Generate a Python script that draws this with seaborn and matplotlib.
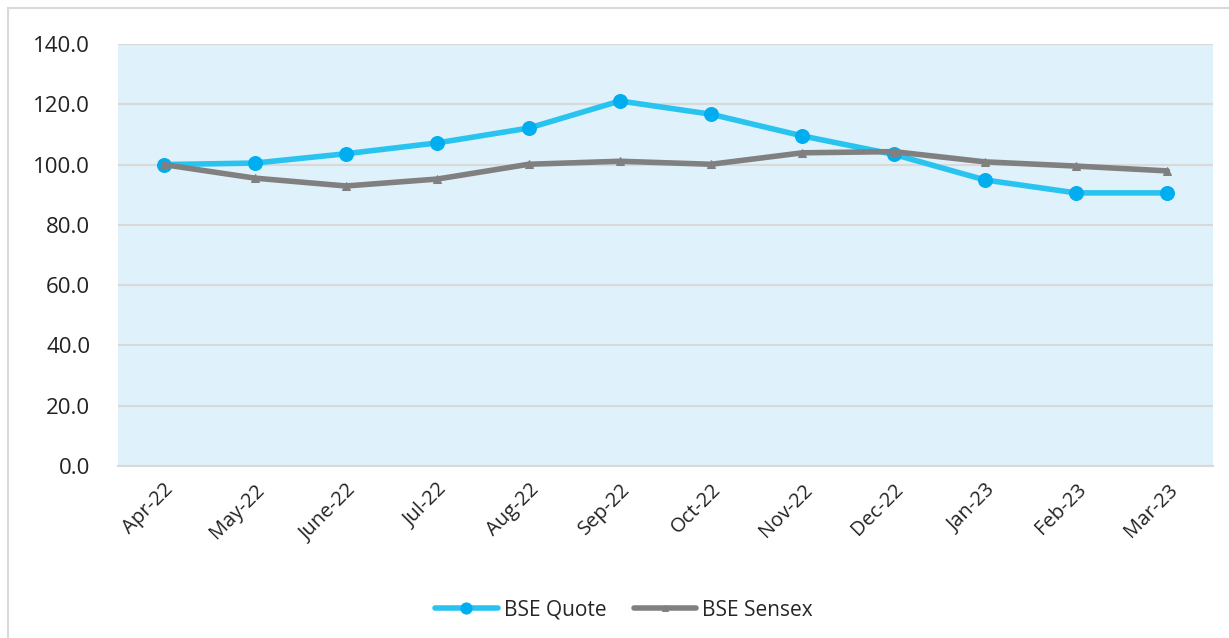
import pandas as pd
import matplotlib.pyplot as plt
import seaborn as sns
from matplotlib.patches import Rectangle

# Dados
months = ['Apr-22', 'May-22', 'June-22', 'Jul-22', 'Aug-22', 'Sep-22',
          'Oct-22', 'Nov-22', 'Dec-22', 'Jan-23', 'Feb-23', 'Mar-23']
bse_quote = [100.0, 100.5, 103.6, 107.2, 112.1, 121.1, 116.7, 109.5, 103.4, 94.9, 90.6, 90.6]
bse_sensex = [100.0, 95.5, 92.9, 95.2, 100.1, 101.1, 100.1, 103.9, 104.3, 100.9, 99.5, 97.9]
yticks = [0, 20, 40, 60, 80, 100, 120, 140]

df = pd.DataFrame({'month': months, 'BSE Quote': bse_quote, 'BSE Sensex': bse_sensex})
df['pos'] = range(len(months))

sns.set_style('white')
plt.rcParams['font.family'] = ['Open Sans', 'DejaVu Sans']

fig = plt.figure(figsize=(12.29, 6.38), dpi=100)
ax = fig.add_axes([118 / 1229, 1 - 466 / 638, 1095 / 1229, 422 / 638])
ax.set_facecolor('#DFF1FA')

sns.lineplot(data=df, x='pos', y='BSE Quote', ax=ax, color='#29C3F0', lw=4,
             marker='o', markersize=10, markerfacecolor='#00AEEF',
             markeredgecolor='#00AEEF', label='BSE Quote', zorder=3)
sns.lineplot(data=df, x='pos', y='BSE Sensex', ax=ax, color='#808080', lw=4,
             marker='^', markersize=6, markerfacecolor='#808080',
             markeredgecolor='#808080', label='BSE Sensex', zorder=4)

ax.set_xlim(-0.5, len(months) - 0.5)
ax.set_ylim(0, 140)
ax.set_yticks(yticks)
ax.set_yticklabels([f'{v:.1f}' for v in yticks], fontsize=16, color='#222222')
ax.set_xticks(df['pos'])
ax.set_xticklabels(months, rotation=45, ha='right', rotation_mode='anchor',
                   fontsize=14.5, color='#222222')
ax.tick_params(axis='y', length=0, pad=20)
ax.tick_params(axis='x', length=0, pad=10)
ax.grid(axis='y', color='#D9D9D9', lw=1.5)
ax.set_axisbelow(True)
for s in ['top', 'right', 'left']:
    ax.spines[s].set_visible(False)
ax.spines['bottom'].set_color('#D9D9D9')
ax.spines['bottom'].set_linewidth(1.5)
ax.set_xlabel('')
ax.set_ylabel('')

leg = ax.legend(loc='center', bbox_to_anchor=((624 - 118) / 1095, (466 - 610) / 422),
                ncol=2, frameon=False, fontsize=15, handlelength=3, columnspacing=1.3,
                handletextpad=0.3)
for h in leg.legend_handles:
    h.set_markersize(h.get_markersize() * 0.8)

# moldura
fig.patches.append(Rectangle((8 / 1229, -0.01), 1.02, 1 - 8 / 638 + 0.01,
                             transform=fig.transFigure, fill=False,
                             edgecolor='#D9D9D9', lw=1.5))

plt.savefig('out.png', dpi=100)
